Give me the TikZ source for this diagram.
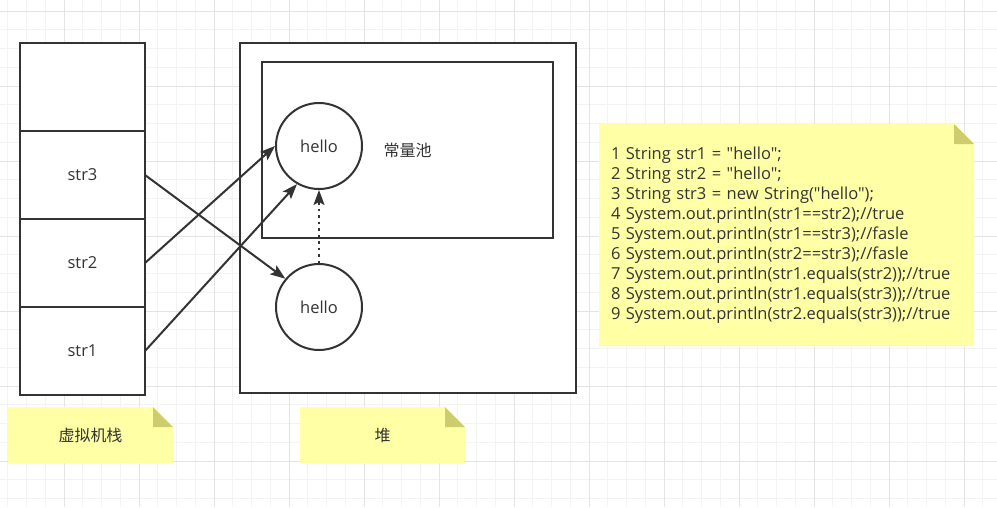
\documentclass[tikz,border=0pt]{standalone}
\usepackage{fontspec}
\setmainfont{Open Sans}[Ligatures=TeXOff]
\newfontfamily\cjk{Noto Sans CJK SC}
\usetikzlibrary{arrows.meta, positioning, calc}
\definecolor{ink}{HTML}{333333}
\definecolor{notefill}{HTML}{FFFFA6}
\definecolor{notefold}{HTML}{CDCD6E}
\definecolor{gridminor}{HTML}{F3F3F3}
\definecolor{gridmajor}{HTML}{E4E4E4}
\tikzset{
  cell/.style={draw=ink,line width=2pt,fill=white,minimum width=125pt,minimum height=88pt,outer sep=0pt,text=ink},
  heapbox/.style={draw=ink,line width=2.4pt,fill=white,minimum width=336pt,minimum height=350pt},
  pool/.style={draw=ink,line width=2pt,fill=white,minimum width=291pt,minimum height=176pt,text=ink,font=\fontsize{16}{20}\cjk},
  obj/.style={circle,draw=ink,line width=2pt,fill=white,minimum size=86pt,inner sep=0pt,text=ink},
  ref/.style={draw=ink,line width=2pt,-{Stealth[length=15pt,width=11pt,inset=3pt]}},
  dotline/.style={dash pattern=on 2.5pt off 4pt},
  notebox/.style={inner sep=12pt,text=ink,path picture={
      \fill[notefill] (path picture bounding box.south west) |- ([xshift=-20pt]path picture bounding box.north east)
        -- ([yshift=-20pt]path picture bounding box.north east) -- (path picture bounding box.south east) -- cycle;
      \fill[notefold] ([xshift=-20pt]path picture bounding box.north east) -- ++(0pt,-20pt)
        -- ([yshift=-20pt]path picture bounding box.north east) -- cycle;}},
  cjknote/.style={notebox,font=\fontsize{16}{20}\cjk,minimum width=165pt,minimum height=56pt},
}
\pgfdeclarelayer{back}
\pgfsetlayers{back,main}

\begin{document}
\begin{tikzpicture}[x=1pt,y=-1pt,font=\fontsize{16.5}{20}\selectfont]
  \useasboundingbox (0,0) rectangle (997,507);
  % grid
  \begin{pgfonlayer}{back}
    \fill[white] (0,0) rectangle (997,507);
    \foreach \i in {0,...,53} \draw[gridminor,line width=1pt] (7.75+18.75*\i,0) -- ++(0,507);
    \foreach \i in {0,...,26} \draw[gridminor,line width=1pt] (0,11+18.75*\i) -- ++(997,0);
    \foreach \x in {64,139,...,964} \draw[gridmajor,line width=1pt] (\x,0) -- ++(0,507);
    \foreach \y in {11,86,...,461} \draw[gridmajor,line width=1pt] (0,\y) -- ++(997,0);
  \end{pgfonlayer}

  % stack
  \node[cell] (stktop) at (82.5,87) {};
  \node[cell,below=0pt of stktop] (str3) {str3};
  \node[cell,below=0pt of str3] (str2) {str2};
  \node[cell,below=0pt of str2] (str1) {str1};

  % heap
  \node[heapbox] (heap) at (408,218) {};
  \node[pool] (pool) at (407.5,150) {常量池};
  \node[obj] (hello1) at (319,146) {hello};
  \node[obj] (hello2) at (319,307) {hello};

  \draw[ref] (str3.east) -- (hello2.140);
  \draw[ref] (str2.east) -- (hello1.west);
  \draw[ref] (str1.east) -- (hello1.240);
  \draw[ref,dotline] (hello2.north) -- (hello1.south);

  % notes
  \node[notebox,minimum height=222pt,text width=351pt,align=left] (code) at (786.5,235) {1 String str1 = "hello";\\
    2 String str2 = "hello";\\
    3 String str3 = new String("hello");\\
    4 System.out.println(str1==str2);//true\\
    5 System.out.println(str1==str3);//fasle\\
    6 System.out.println(str2==str3);//fasle\\
    7 System.out.println(str1.equals(str2));//true\\
    8 System.out.println(str1.equals(str3));//true\\
    9 System.out.println(str2.equals(str3));//true};
  \node[cjknote] (stacknote) at (90.5,435) {虚拟机栈};
  \node[cjknote] (heapnote) at (382.5,435) {堆};
\end{tikzpicture}
\end{document}
